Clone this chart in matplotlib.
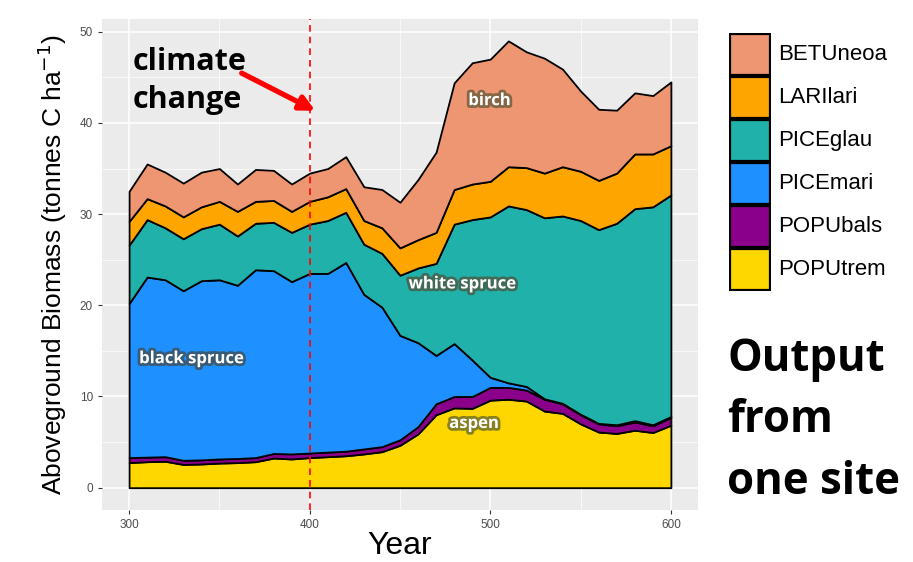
import numpy as np
import matplotlib.pyplot as plt
import matplotlib.patheffects as pe
from matplotlib.patches import Rectangle
from matplotlib.ticker import MultipleLocator

# biomass by species
years = list(range(300, 610, 10))
species = ['POPUtrem', 'POPUbals', 'PICEmari', 'PICEglau', 'LARIlari', 'BETUneoa']
POPUtrem = [2.75, 2.85, 2.9, 2.55, 2.6, 2.7, 2.75, 2.85, 3.25, 3.15, 3.3, 3.4, 3.5, 3.7, 3.95, 4.65,
            5.9, 8.0, 8.75, 8.7, 9.6, 9.7, 9.5, 8.4, 8.15, 7.0, 6.1, 5.95, 6.3, 6.05, 6.85]
POPUbals = [0.55, 0.5, 0.5, 0.45, 0.45, 0.45, 0.45, 0.45, 0.5, 0.55, 0.5, 0.5, 0.5, 0.55, 0.55, 0.6,
            0.8, 1.2, 1.25, 1.3, 1.4, 1.3, 1.2, 1.3, 1.05, 1.0, 0.9, 0.85, 0.9, 0.75, 0.85]
PICEmari = [16.9, 19.75, 19.4, 18.6, 19.65, 19.65, 19.0, 20.6, 20.05, 18.9, 19.7, 19.6, 20.7, 16.95, 15.3, 11.45,
            9.2, 5.3, 5.8, 4.0, 1.1, 0.5, 0.4, 0.05, 0.05, 0.05, 0.05, 0.1, 0.15, 0.1, 0.1]
PICEglau = [6.4, 6.3, 5.7, 5.7, 5.7, 6.1, 5.4, 5.1, 5.3, 5.4, 5.4, 5.8, 5.5, 5.5, 5.9, 6.6,
            8.2, 10.1, 13.1, 15.4, 17.6, 19.4, 19.4, 19.85, 20.55, 21.25, 21.25, 22.1, 23.25, 23.9, 24.3]
LARIlari = [2.6, 2.3, 2.4, 2.4, 2.4, 2.5, 2.7, 2.4, 2.4, 2.3, 2.5, 2.6, 2.6, 2.6, 2.8, 3.0,
            3.1, 3.4, 3.8, 3.9, 3.9, 4.3, 4.6, 4.9, 5.4, 5.4, 5.4, 5.5, 6.0, 5.8, 5.4]
BETUneoa = [3.3, 3.8, 3.7, 3.7, 3.8, 3.6, 3.0, 3.5, 3.3, 3.0, 3.1, 3.1, 3.5, 3.7, 4.2, 5.0,
            6.6, 8.8, 11.7, 13.3, 13.4, 13.8, 12.7, 12.6, 10.7, 8.8, 7.8, 6.9, 6.7, 6.4, 7.0]
colors = ['#FFD700', '#8B008B', '#1E90FF', '#20B2AA', '#FFA500', '#EE9572']

plt.rcParams['font.family'] = ['Liberation Sans', 'DejaVu Sans']

fig = plt.figure(figsize=(9.13, 5.62), dpi=100)
ax = fig.add_axes([0.1117, 0.0925, 0.6528, 0.8745])
ax.set_facecolor('#EBEBEB')

ax.stackplot(years, POPUtrem, POPUbals, PICEmari, PICEglau, LARIlari, BETUneoa,
             colors=colors, edgecolor='black', linewidth=1.3, zorder=3)

ax.set_xlim(285, 615)
ax.set_ylim(-2.45, 51.45)
ax.xaxis.set_major_locator(MultipleLocator(100))
ax.xaxis.set_minor_locator(MultipleLocator(50))
ax.yaxis.set_major_locator(MultipleLocator(10))
ax.yaxis.set_minor_locator(MultipleLocator(5))
ax.grid(which='major', color='white', linewidth=1.1, zorder=0)
ax.grid(which='minor', color='white', linewidth=0.5, zorder=0)
ax.set_axisbelow(True)
for s in ax.spines.values():
    s.set_visible(False)
ax.tick_params(which='major', length=3, color='#333333', labelcolor='#4D4D4D', labelsize=8.5)
ax.tick_params(which='minor', length=0)

ax.set_xlabel('Year', fontsize=23, labelpad=0)
ax.set_ylabel('Aboveground Biomass (tonnes C ha$^{-1}$)', fontsize=19, labelpad=8)

# climate change marker
ax.axvline(400, color='red', linestyle=(0, (4, 3)), linewidth=1.2, zorder=4)
ax.text(302, 44.6, 'climate\nchange', fontsize=22, fontweight='bold', family='Open Sans',
        linespacing=1.35, ha='left', va='center', zorder=5)
ax.annotate('', xy=(404.5, 41.2), xytext=(361, 45.6),
            arrowprops=dict(arrowstyle='-|>', color='red', lw=3.8, mutation_scale=22), zorder=5)

# species labels with glow
labels = [('birch', 499.5, 42.5, '#6B5B3A'), ('white spruce', 484.5, 22.4, '#4A5A45'),
          ('black spruce', 334.5, 14.2, '#3F4F55'), ('aspen', 491, 7.1, '#6A6A2A')]
for txt, x, y, glow in labels:
    ax.text(x, y, txt, color='white', fontsize=12, fontweight='bold', family='Open Sans',
            ha='center', va='center', zorder=6,
            path_effects=[pe.withStroke(linewidth=4, foreground=glow, alpha=0.8)])

# legend drawn by hand
lax = fig.add_axes([729 / 913, 1 - 291 / 562, 42 / 913, 258 / 562])
lax.set_xlim(0, 1)
lax.set_ylim(0, 6)
lax.axis('off')
for i, (name, c) in enumerate(zip(species, colors)):
    lax.add_patch(Rectangle((0.03, i + 0.03), 0.94, 0.94, facecolor=c, edgecolor='black', linewidth=1.6))
    lax.text(1.18, i + 0.5, name, fontsize=16, va='center', ha='left', clip_on=False)

fig.text(727 / 913, 1 - 421 / 562, 'Output\nfrom\none site', fontsize=31.5, fontweight='bold',
         family='Open Sans', linespacing=1.5, ha='left', va='center')

fig.savefig('out.png', dpi=100)
